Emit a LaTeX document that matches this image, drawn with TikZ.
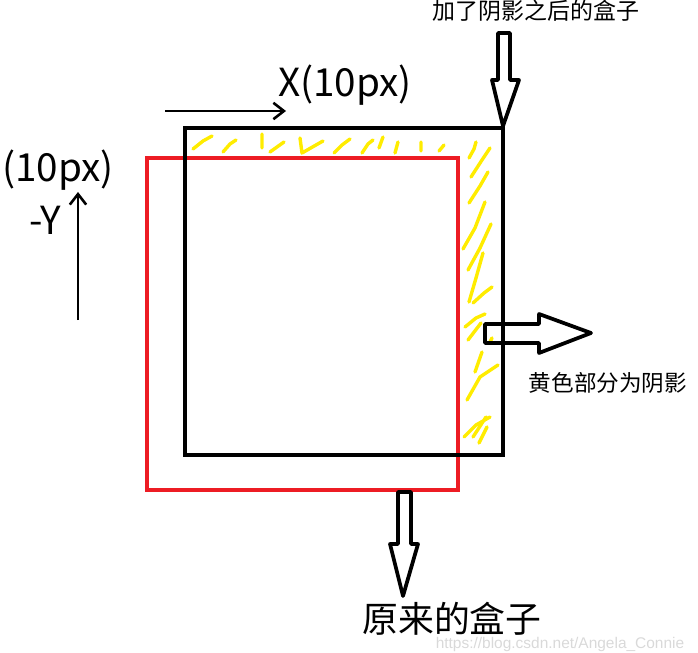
\documentclass[tikz,border=0pt]{standalone}
\usepackage{fontspec}
\setmainfont{Noto Sans CJK SC}
\newfontfamily\urlfont{Liberation Sans}
\usetikzlibrary{arrows.meta}
\definecolor{paintred}{RGB}{237,28,36}
\definecolor{paintyellow}{RGB}{255,236,0}
\tikzset{
  box/.style={line width=3.4pt},
  blockarrow/.style={line width=3.2pt, line join=round},
  hatch/.style={paintyellow, line width=2.9pt, line cap=round, line join=round},
  shiftarrow/.style={line width=2.4pt, -{Straight Barb[length=9pt,width=14pt,line width=2.2pt]}},
  lbl/.style={inner sep=0pt, anchor=base},
}

\begin{document}
\begin{tikzpicture}[x=0.03cm,y=-0.03cm]
  \useasboundingbox (0,0) rectangle (698,653);
  % original box
  \draw[box,paintred] (147,158) rectangle (458,490);
  % box with shadow
  \draw[box] (185,128) rectangle (503,455);
  % yellow strokes = shadow
  \draw[hatch] (193,149) -- (203,141) -- (212,136)  (223,152) -- (230,144) -- (236,140)
    (262,134) -- (262,148)  (270,152) -- (284,142)
    (300,138) -- (302,153) -- (323,141)  (334,153) -- (342,145) -- (350,139)
    (362,153) -- (368,144) -- (373,140)  (383,137) -- (379,148)
    (398,142) -- (395,153)  (421,142) -- (421,151)
    (439,151) -- (444,145);
  \draw[hatch] (469,158) -- (474,149) -- (476,142)  (471,177) -- (482,160) -- (490,148)
    (469,203) -- (480,186) -- (488,172)  (463,249) -- (475,228) -- (485,202)
    (468,270) -- (480,248) -- (491,224)  (469,302) -- (476,278) -- (483,253)
    (473,303) -- (484,293) -- (492,287)  (465,327) -- (476,318) -- (485,314)
    (468,340) -- (481,323)  (490,342) -- (492,338)
    (475,372) -- (482,352)  (467,400) -- (480,377) -- (498,365)
    (464,437) -- (476,425) -- (490,417)  (473,437) -- (486,417)
    (479,443) -- (487,427);
  % block arrows
  \draw[blockarrow] (498,33) -- (510,33) -- (510,80) -- (519,80) -- (503,126) -- (492,80) -- (498,80) -- cycle;
  \draw[blockarrow] (485,324) -- (539,324) -- (539,314) -- (591,333) -- (539,353) -- (539,343) -- (485,343) -- cycle;
  \draw[blockarrow] (398,492) -- (411,492) -- (411,544) -- (418,544) -- (403,596) -- (390,544) -- (398,544) -- cycle;
  % offsets
  \coordinate (xfrom) at (165,111);
  \coordinate (xto) at (286,111);
  \draw[shiftarrow] (xfrom) -- (xto);
  \coordinate (yfrom) at (78,320);
  \coordinate (yto) at (78,192);
  \draw[shiftarrow] (yfrom) -- (yto);
  % labels
  \node[lbl, font=\fontsize{19.6}{24}\selectfont] (shadowlbl) at (536,20) {加了阴影之后的盒子};
  \node[lbl, font=\fontsize{33}{38}\selectfont] (xlbl) at (345,97) {X(10px)};
  \node[lbl, font=\fontsize{33}{38}\selectfont] (ypxlbl) at (58,182) {(10px)};
  \node[lbl, font=\fontsize{33}{38}\selectfont] (ylbl) at (45,235) {-Y};
  \node[lbl, font=\fontsize{19.3}{24}\selectfont] (yellowlbl) at (608,391) {黄色部分为阴影};
  \node[lbl, font=\fontsize{30.6}{36}\selectfont] (origlbl) at (452,632) {原来的盒子};
  \node[lbl, text=black!15, font=\urlfont\fontsize{13.2}{16}\selectfont] (marklbl) at (560,648) {https://blog.csdn.net/Angela\_Connie};
\end{tikzpicture}
\end{document}
